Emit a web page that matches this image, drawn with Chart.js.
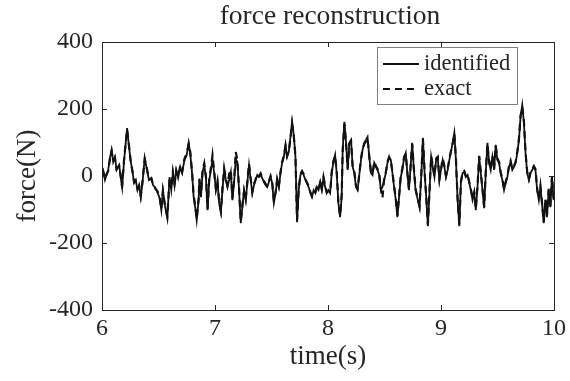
<!DOCTYPE html>
<html>
<head>
<meta charset="utf-8">
<script src="https://cdn.jsdelivr.net/npm/chart.js@4/dist/chart.umd.min.js"></script>
<style>
    html, body { margin: 0; padding: 0; background: #fff; }
    #wrap { width: 570px; height: 381px; }
</style>
</head>
<body>
<div id="wrap"><canvas id="forceChart"></canvas></div>
<script>
// time axis samples (s)
const times = [
    6.006, 6.026, 6.041, 6.055, 6.070, 6.085, 6.099, 6.114, 6.129, 6.152,
    6.178, 6.196, 6.222, 6.240, 6.255, 6.270, 6.284, 6.299, 6.314, 6.328,
    6.343, 6.358, 6.378, 6.398, 6.416, 6.437, 6.451, 6.469, 6.490, 6.510,
    6.525, 6.539, 6.556, 6.578, 6.598, 6.613, 6.627, 6.642, 6.657, 6.674,
    6.692, 6.709, 6.730, 6.750, 6.767, 6.782, 6.797, 6.811, 6.826, 6.838,
    6.855, 6.862, 6.876, 6.890, 6.905, 6.920, 6.934, 6.949, 6.964, 6.978,
    6.993, 7.008, 7.022, 7.037, 7.052, 7.066, 7.081, 7.096, 7.110, 7.125,
    7.140, 7.154, 7.169, 7.184, 7.198, 7.213, 7.228, 7.242, 7.257, 7.272,
    7.286, 7.301, 7.316, 7.330, 7.345, 7.360, 7.374, 7.389, 7.404, 7.418,
    7.433, 7.448, 7.462, 7.477, 7.492, 7.506, 7.521, 7.536, 7.550, 7.565,
    7.580, 7.594, 7.609, 7.624, 7.638, 7.653, 7.668, 7.682, 7.697, 7.712,
    7.726, 7.741, 7.756, 7.770, 7.785, 7.800, 7.829, 7.844, 7.858, 7.873,
    7.888, 7.902, 7.916, 7.931, 7.945, 7.960, 7.975, 7.989, 8.004, 8.019,
    8.033, 8.048, 8.063, 8.077, 8.092, 8.107, 8.121, 8.130, 8.145, 8.160,
    8.174, 8.189, 8.204, 8.218, 8.233, 8.248, 8.262, 8.277, 8.292, 8.306,
    8.321, 8.336, 8.350, 8.365, 8.380, 8.394, 8.409, 8.424, 8.438, 8.453,
    8.468, 8.482, 8.497, 8.512, 8.526, 8.541, 8.556, 8.570, 8.585, 8.600,
    8.614, 8.629, 8.644, 8.658, 8.673, 8.688, 8.702, 8.716, 8.731, 8.745,
    8.760, 8.775, 8.789, 8.810, 8.825, 8.840, 8.855, 8.869, 8.884, 8.899,
    8.913, 8.927, 8.942, 8.957, 8.971, 8.986, 9.000, 9.015, 9.030, 9.044,
    9.059, 9.074, 9.088, 9.103, 9.118, 9.132, 9.147, 9.162, 9.176, 9.191,
    9.206, 9.220, 9.235, 9.250, 9.264, 9.279, 9.294, 9.308, 9.323, 9.338,
    9.352, 9.367, 9.382, 9.396, 9.411, 9.426, 9.440, 9.455, 9.470, 9.484,
    9.499, 9.514, 9.528, 9.543, 9.558, 9.572, 9.587, 9.602, 9.616, 9.631,
    9.646, 9.660, 9.675, 9.690, 9.704, 9.719, 9.734, 9.748, 9.763, 9.778,
    9.792, 9.807, 9.822, 9.836, 9.851, 9.866, 9.880, 9.895, 9.909, 9.924,
    9.938, 9.953, 9.968, 9.982, 9.997
];

// identified force (N)
const identified = [
    24, -12, 3, 18, 54, 78, 42, 57, 18, 33,
    -36, 48, 143, 84, 42, 12, -21, -12, -42, -27,
    -63, -21, 54, 18, -12, -6, -27, -33, -48, -66,
    -102, -42, -87, -126, -3, -42, 9, -27, 18, -6,
    27, 9, 48, 63, 99, 63, 9, -63, -96, -132,
    -72, -12, -63, 12, 33, -6, -102, -12, 18, 48,
    9, -42, -18, -81, -108, -42, 18, -12, -33, -12,
    12, -72, -18, 50, 42, -42, -141, -93, -42, -72,
    -21, 33, -12, -51, -27, -12, 3, -3, 3, -6,
    -18, -27, -33, -18, -3, -21, -81, -51, -12, -33,
    9, 39, 57, 93, 57, 72, 117, 162, 123, 57,
    -138, -42, 3, 12, 3, -12, -33, -51, -63, -42,
    -51, -33, -42, -21, -42, -6, -33, -51, -42, -51,
    9, 42, 63, 9, -81, -123, -63, 78, 162, 99,
    18, 99, 108, 27, 9, -33, -42, 3, 48, 78,
    99, 108, 117, 57, 9, 3, 39, 27, 18, 3,
    -42, -33, -12, 9, 39, 54, 48, 9, -33, -72,
    -123, -63, -3, 18, 54, 69, 9, -42, 27, 99,
    18, -42, -63, -93, -3, 114, 9, -63, -150, -42,
    57, 27, -3, 48, 54, -12, 18, 48, 27, -3,
    18, 48, 72, 99, 129, 48, -72, -150, -21, 9,
    12, -3, 3, -21, -42, -72, -51, -102, -33, 57,
    9, -42, -96, 9, 99, 39, 18, 57, 18, 93,
    48, 39, 9, -12, -42, -21, -3, 27, 42, 18,
    27, 39, 69, 108, 177, 212, 159, 69, 9, -12,
    9, 18, 27, 18, -42, -72, -33, -87, -141, -72,
    -123, -42, -93, -3, -72
];

// exact force (N)
const exact = [
    20, -8, 6, 15, 50, 74, 45, 54, 22, 30,
    -30, 52, 138, 88, 40, 15, -18, -15, -38, -30,
    -60, -18, 50, 22, -10, -8, -24, -36, -45, -62,
    -98, -45, -84, -120, -6, -38, 12, -24, 15, -3,
    30, 12, 52, 68, 95, 70, 12, -58, -92, -128,
    -68, -8, -58, 18, 38, -2, -98, -8, 25, 62,
    12, -38, -15, -78, -104, -38, 22, -8, -28, 5,
    18, -66, -12, 72, 45, -38, -136, -90, -45, -68,
    -18, 36, -8, -48, -24, -9, 6, 0, 8, -3,
    -15, -24, -30, -15, 0, -18, -76, -48, -9, -30,
    12, 42, 60, 90, 60, 75, 112, 156, 120, 60,
    -132, -38, 6, 15, 6, -9, -30, -48, -60, -45,
    -48, -30, -38, -18, -38, -3, -30, -48, -45, -48,
    12, 45, 60, 12, -78, -118, -58, 74, 156, 96,
    22, 96, 104, 30, 12, -30, -38, 6, 52, 80,
    96, 104, 112, 60, 12, 6, 42, 30, 21, 6,
    -38, -66, -9, 12, 42, 57, 45, 12, -30, -68,
    -118, -60, 0, 22, 57, 66, 12, -38, 30, 96,
    22, -38, -60, -90, 0, 110, 12, -60, -145, -38,
    60, 30, 0, 52, 57, -9, 21, 52, 30, 0,
    21, 52, 75, 96, 126, 52, -68, -145, -18, 12,
    15, 0, 6, -18, -38, -68, -48, -98, -30, 60,
    12, -38, -92, 12, 96, 42, 21, 60, 21, 90,
    52, 42, 12, -9, -38, -18, 0, 30, 45, 21,
    30, 42, 72, 112, 180, 206, 162, 72, 12, -9,
    12, 21, 30, 21, -38, -68, -30, -84, -136, -68,
    -118, -38, -90, 0, -68
];

const xTicks = [6, 7, 8, 9, 10];
const yTicks = [-400, -200, 0, 200, 400];
const legendLabels = ['identified', 'exact'];
const chartTitle = 'force reconstruction';

const serif = "'Liberation Serif', 'Times New Roman', serif";
const ink = '#262626';

// MATLAB style box with inward ticks, title over the axes, legend inside
const matlabFrame = {
    id: 'matlabFrame',
    afterDraw(chart) {
        const { ctx, chartArea: a, scales: { x, y } } = chart;
        ctx.save();
        ctx.strokeStyle = ink;
        ctx.lineWidth = 1;
        ctx.strokeRect(Math.round(a.left) + 0.5, Math.round(a.top) + 0.5,
            Math.round(a.width), Math.round(a.height));
        ctx.beginPath();
        xTicks.forEach(v => {
            const px = Math.round(x.getPixelForValue(v)) + 0.5;
            ctx.moveTo(px, a.bottom); ctx.lineTo(px, a.bottom - 5);
            ctx.moveTo(px, a.top); ctx.lineTo(px, a.top + 5);
        });
        yTicks.forEach(v => {
            const py = Math.round(y.getPixelForValue(v)) + 0.5;
            ctx.moveTo(a.left, py); ctx.lineTo(a.left + 5, py);
            ctx.moveTo(a.right, py); ctx.lineTo(a.right - 5, py);
        });
        ctx.stroke();

        // title centred on the axes box
        ctx.fillStyle = ink;
        ctx.font = '27.5px ' + serif;
        ctx.textAlign = 'center';
        ctx.textBaseline = 'middle';
        ctx.fillText(chartTitle, (a.left + a.right) / 2 + 2, 17);

        // legend
        const bx = 377, by = 47, bw = 140, bh = 57;
        ctx.fillStyle = '#fff';
        ctx.fillRect(bx, by, bw, bh);
        ctx.strokeStyle = '#808080';
        ctx.strokeRect(bx + 0.5, by + 0.5, bw, bh);
        ctx.strokeStyle = '#111';
        ctx.font = '22.5px ' + serif;
        ctx.fillStyle = ink;
        ctx.textAlign = 'left';
        chart.data.datasets.forEach((ds, i) => {
            const ly = by + 17 + i * 25;
            ctx.beginPath();
            ctx.lineWidth = ds.borderWidth;
            ctx.setLineDash(ds.borderDash || []);
            ctx.moveTo(bx + 6, ly);
            ctx.lineTo(bx + 42, ly);
            ctx.stroke();
            ctx.setLineDash([]);
            ctx.fillText(legendLabels[i], bx + 47, ly);
        });
        ctx.restore();
    }
};

new Chart(document.getElementById('forceChart'), {
    type: 'line',
    data: {
        datasets: [{
            label: legendLabels[0],
            data: times.map((t, i) => ({ x: t, y: identified[i] })),
            borderColor: '#111',
            borderWidth: 1.8,
            pointRadius: 0,
            tension: 0
        }, {
            label: legendLabels[1],
            data: times.map((t, i) => ({ x: t, y: exact[i] })),
            borderColor: '#111',
            borderWidth: 2.2,
            borderDash: [7, 5],
            pointRadius: 0,
            tension: 0
        }]
    },
    options: {
        responsive: true,
        maintainAspectRatio: false,
        animation: false,
        layout: { padding: { left: 0, right: 13, top: 42, bottom: 0 } },
        plugins: {
            legend: { display: false },
            tooltip: { enabled: false },
            title: { display: false }
        },
        scales: {
            x: {
                type: 'linear',
                min: 6,
                max: 10,
                afterFit: s => { s.height = 71; },
                afterBuildTicks: s => { s.ticks = xTicks.map(v => ({ value: v })); },
                grid: { display: false, drawTicks: false },
                border: { display: false },
                ticks: { color: ink, padding: 4, font: { family: serif, size: 24 }, maxRotation: 0 },
                title: {
                    display: true,
                    text: 'time(s)',
                    color: ink,
                    font: { family: serif, size: 27 },
                    padding: { top: 0, bottom: 8 }
                }
            },
            y: {
                min: -400,
                max: 400,
                afterFit: s => { s.width = 102; },
                afterBuildTicks: s => { s.ticks = yTicks.map(v => ({ value: v })); },
                grid: { display: false, drawTicks: false },
                border: { display: false },
                ticks: { color: ink, padding: 9, font: { family: serif, size: 24 } },
                title: {
                    display: true,
                    text: 'force(N)',
                    color: ink,
                    font: { family: serif, size: 27 },
                    padding: { top: 12, bottom: 0 }
                }
            }
        }
    },
    plugins: [matlabFrame]
});
</script>
</body>
</html>
